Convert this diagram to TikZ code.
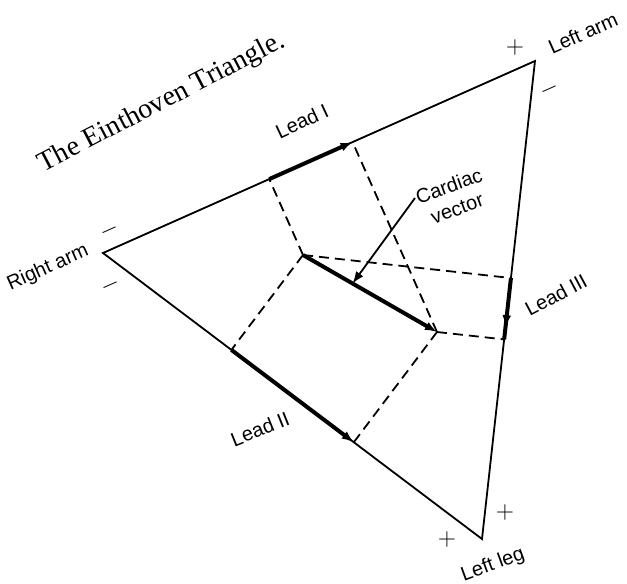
\documentclass[tikz,border=0pt]{standalone}
\usepackage{fontspec}
\setmainfont{Liberation Serif}
\setsansfont{Liberation Sans}
\usetikzlibrary{arrows.meta, calc, decorations.markings}

\begin{document}
\begin{tikzpicture}[x=0.5pt, y=-0.5pt, >={Latex[length=6pt, width=4.5pt]}]
  \tikzset{
    side/.style={line width=0.9pt},
    lead/.style={line width=2pt, ->},
    proj/.style={line width=0.9pt, dash pattern=on 5pt off 3pt},
    lbl/.style={font=\sffamily, rotate=24},
    sign/.style={font=\sffamily\large, inner sep=0pt}
  }
  \useasboundingbox (0,0) rectangle (627,584);

  % Title
  \node[font=\fontsize{14}{16}\selectfont, rotate=27.5] (title) at (162,103) {The Einthoven Triangle.};

  % Triangle
  \coordinate (RA) at (103,253);
  \coordinate (LA) at (535,61);
  \coordinate (LL) at (482,539);
  \draw[side] (RA) -- (LA) -- (LL) -- cycle;

  % Limb labels and signs
  \node[lbl] (ralbl) at (48,268) {Right arm};
  \node[lbl] (lalbl) at (583,33) {Left arm};
  \node[lbl, rotate=-4] (lllbl) at (493,565) {Left leg};
  \node[sign, rotate=24] (ram1) at (110,230) {$-$};
  \node[sign, rotate=24] (ram2) at (111,285) {$-$};
  \node[sign] (lap) at (515,47) {$+$};
  \node[sign, rotate=24] (lam) at (550,89) {$-$};
  \node[sign] (llp1) at (447,539) {$+$};
  \node[sign] (llp2) at (505,512) {$+$};

  % Cardiac vector and its projections
  \coordinate (T) at (303,255);
  \coordinate (H) at (437,332);
  \coordinate (I1) at ($(RA)!(T)!(LA)$);
  \coordinate (I2) at ($(RA)!(H)!(LA)$);
  \coordinate (II1) at ($(RA)!(T)!(LL)$);
  \coordinate (II2) at ($(RA)!(H)!(LL)$);
  \coordinate (III1) at ($(LA)!(T)!(LL)$);
  \coordinate (III2) at ($(LA)!(H)!(LL)$);

  \draw[proj] (T) -- (I1);
  \draw[proj] (T) -- (II1);
  \draw[proj] (T) -- (III1);
  \draw[proj] (H) -- (I2);
  \draw[proj] (H) -- (II2);
  \draw[proj] (H) -- (III2);

  \draw[lead] (T) -- (H);
  \draw[lead] (I1) -- (I2);
  \draw[lead] (II1) -- (II2);
  \draw[line width=2pt, decoration={markings, mark=at position 0.8 with {\arrow{>}}},
        postaction={decorate}] (III1) -- (III2);

  % Lead labels
  \node[lbl, rotate=1] (l1lbl) at (302,121) {Lead I};
  \node[lbl, rotate=-2] (l2lbl) at (260,429) {Lead II};
  \node[lbl, rotate=4] (l3lbl) at (556,295) {Lead III};

  % Cardiac vector label
  \node[lbl, rotate=-4, align=center, inner sep=1pt] (cvlbl) at (453,197) {Cardiac\\vector};
  \draw[->, line width=0.9pt] (415,198) -- ($(T)!0.37!(H)$);
\end{tikzpicture}
\end{document}
